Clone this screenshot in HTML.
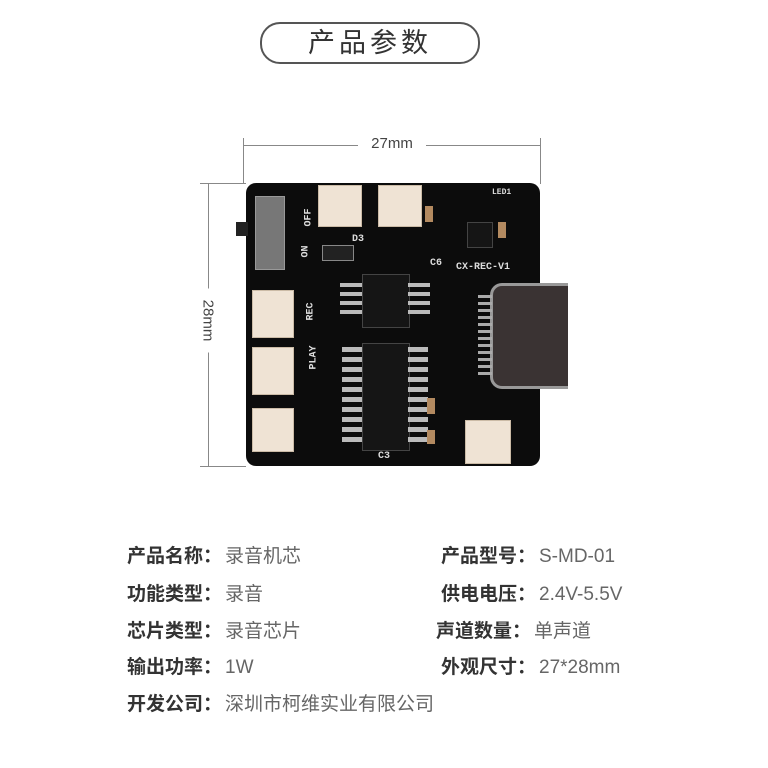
<!DOCTYPE html>
<html><head><meta charset="utf-8"><style>
body{margin:0;width:768px;height:768px;background:#fff;position:relative;overflow:hidden;font-family:"Liberation Sans","Noto Sans CJK SC",sans-serif}
.a{position:absolute}
.pill{left:260px;top:22px;width:216px;height:38px;border:2px solid #555;border-radius:20px;text-align:center;line-height:38px;font-size:27px;color:#333;letter-spacing:4px}
.ln{background:#888}
.row{position:absolute;font-size:19px;line-height:24px;white-space:nowrap}
.row b{color:#333;font-weight:bold;display:inline-block;width:98px}
.row span{color:#666}
.w{background:#efe3d4;border:1px solid #cbbba6}
.chip{background:#151515;border:1px solid #444}
.t{color:#ddd;font-family:"Liberation Mono",monospace;font-size:10px;position:absolute;font-weight:bold}
</style></head><body>
<div class="a pill">产品参数</div>
<div class="a ln" style="left:243px;top:145px;width:297px;height:1px"></div>
<div class="a ln" style="left:243px;top:138px;width:1px;height:46px"></div>
<div class="a ln" style="left:540px;top:138px;width:1px;height:46px"></div>
<div class="a" style="left:358px;top:135px;width:68px;background:#fff;text-align:center;font-size:15px;color:#444">27mm</div>
<div class="a ln" style="left:208px;top:183px;width:1px;height:283px"></div>
<div class="a ln" style="left:200px;top:183px;width:46px;height:1px"></div>
<div class="a ln" style="left:200px;top:466px;width:46px;height:1px"></div>
<div class="a" style="left:176px;top:312px;width:64px;background:#fff;text-align:center;font-size:15px;color:#444;transform:rotate(90deg)">28mm</div>
<div class="a" style="left:246px;top:183px;width:294px;height:283px;background:#0c0c0c;border-radius:10px"></div>
<div class="a" style="left:236px;top:222px;width:12px;height:14px;background:#222"></div>
<div class="a" style="left:255px;top:196px;width:28px;height:72px;background:#777;border:1px solid #999"></div>
<div class="a w" style="left:318px;top:185px;width:42px;height:40px"></div>
<div class="a w" style="left:378px;top:185px;width:42px;height:40px"></div>
<div class="a w" style="left:252px;top:290px;width:40px;height:46px"></div>
<div class="a w" style="left:252px;top:347px;width:40px;height:46px"></div>
<div class="a w" style="left:252px;top:408px;width:40px;height:42px"></div>
<div class="a w" style="left:465px;top:420px;width:44px;height:42px"></div>
<div class="a chip" style="left:362px;top:274px;width:46px;height:52px"></div>
<div class="a chip" style="left:362px;top:343px;width:46px;height:106px"></div>
<div class="a" style="left:340px;top:283px;width:22px;height:36px;background:repeating-linear-gradient(#bbb 0 4px,transparent 4px 9px)"></div>
<div class="a" style="left:408px;top:283px;width:22px;height:36px;background:repeating-linear-gradient(#bbb 0 4px,transparent 4px 9px)"></div>
<div class="a" style="left:342px;top:347px;width:20px;height:98px;background:repeating-linear-gradient(#bbb 0 5px,transparent 5px 10px)"></div>
<div class="a" style="left:408px;top:347px;width:20px;height:98px;background:repeating-linear-gradient(#bbb 0 5px,transparent 5px 10px)"></div>
<div class="a chip" style="left:467px;top:222px;width:24px;height:24px"></div>
<div class="a" style="left:490px;top:283px;width:75px;height:100px;background:#3a3333;border-radius:12px 0 0 12px;border:3px solid #999;border-right:none"></div>
<div class="a" style="left:478px;top:295px;width:14px;height:80px;background:repeating-linear-gradient(#aaa 0 3px,transparent 3px 7px)"></div>
<div class="a" style="left:322px;top:245px;width:30px;height:14px;background:#222;border:1px solid #888"></div>
<div class="t" style="left:456px;top:262px">CX-REC-V1</div>
<div class="t" style="left:492px;top:188px;font-size:8px">LED1</div>
<div class="t" style="left:352px;top:234px">D3</div>
<div class="t" style="left:378px;top:451px">C3</div>
<div class="t" style="left:430px;top:258px">C6</div>
<div class="t" style="left:300px;top:212px;transform:rotate(-90deg)">OFF</div>
<div class="t" style="left:300px;top:246px;transform:rotate(-90deg)">ON</div>
<div class="t" style="left:302px;top:306px;transform:rotate(-90deg)">REC</div>
<div class="t" style="left:302px;top:352px;transform:rotate(-90deg)">PLAY</div>
<div class="a" style="left:425px;top:206px;width:8px;height:16px;background:#b38a60"></div>
<div class="a" style="left:498px;top:222px;width:8px;height:16px;background:#b38a60"></div>
<div class="a" style="left:427px;top:398px;width:8px;height:16px;background:#b38a60"></div>
<div class="a" style="left:427px;top:430px;width:8px;height:14px;background:#b38a60"></div>
<div class="row" style="left:127px;top:545px"><b>产品名称：</b><span>录音机芯</span></div>
<div class="row" style="left:127px;top:583px"><b>功能类型：</b><span>录音</span></div>
<div class="row" style="left:127px;top:620px"><b>芯片类型：</b><span>录音芯片</span></div>
<div class="row" style="left:127px;top:656px"><b>输出功率：</b><span>1W</span></div>
<div class="row" style="left:127px;top:693px"><b>开发公司：</b><span>深圳市柯维实业有限公司</span></div>
<div class="row" style="left:441px;top:545px"><b>产品型号：</b><span>S-MD-01</span></div>
<div class="row" style="left:441px;top:583px"><b>供电电压：</b><span>2.4V-5.5V</span></div>
<div class="row" style="left:436px;top:620px"><b>声道数量：</b><span>单声道</span></div>
<div class="row" style="left:441px;top:656px"><b>外观尺寸：</b><span>27*28mm</span></div>
</body></html>
